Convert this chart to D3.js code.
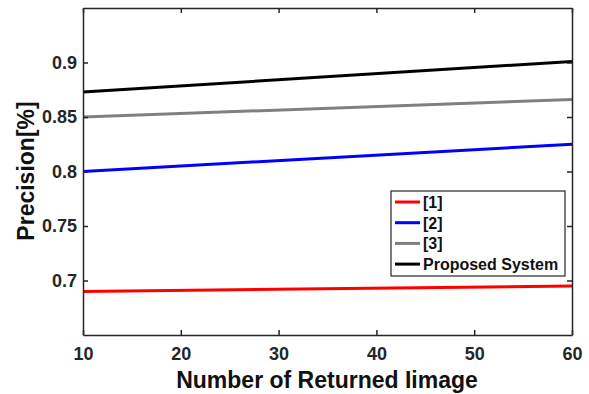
<!DOCTYPE html>
<html><head><meta charset="utf-8">
<script src="https://cdn.jsdelivr.net/npm/d3@7"></script>
<style>body{margin:0;background:#fff}svg{display:block}text{font-family:"Liberation Sans",Arial,sans-serif;font-weight:bold}</style>
</head><body><svg id="c" width="589" height="394"></svg>
<script>
const xValues = [10, 60];
const seriesNames = ["[1]", "[2]", "[3]", "Proposed System"];
const seriesColors = ["#ff0000", "#0000ff", "#808080", "#000000"];
const s1 = [0.690, 0.695];
const s2 = [0.800, 0.825];
const s3 = [0.850, 0.866];
const s4 = [0.873, 0.901];
const xTicks = [10, 20, 30, 40, 50, 60];
const yTicks = [0.7, 0.75, 0.8, 0.85, 0.9];
const allSeries = [s1, s2, s3, s4];

const svg = d3.select("#c");
const m = {l:83, t:8, r:589-572, b:394-335};
const W = 589 - m.l - m.r, H = 394 - m.t - m.b;
const x = d3.scaleLinear().domain([10, 60]).range([m.l, m.l + W]);
const y = d3.scaleLinear().domain([0.65, 0.95]).range([m.t + H, m.t]);
const axColor = "#262626";

// lines
const line = d3.line().x((d,i)=>x(xValues[i])).y(d=>y(d));
allSeries.forEach((s,i)=>{
  svg.append("path").attr("d", line(s)).attr("fill","none")
    .attr("stroke", seriesColors[i]).attr("stroke-width", 3);
});

// axes with inward ticks
const gB = svg.append("g").attr("transform",`translate(0,${m.t+H})`)
  .call(d3.axisBottom(x).tickValues(xTicks).tickSizeInner(-5).tickSizeOuter(0).tickPadding(12));
const gT = svg.append("g").attr("transform",`translate(0,${m.t})`)
  .call(d3.axisTop(x).tickValues(xTicks).tickSizeInner(-5).tickSizeOuter(0).tickFormat(""));
const gL = svg.append("g").attr("transform",`translate(${m.l},0)`)
  .call(d3.axisLeft(y).tickValues(yTicks).tickSizeInner(-5).tickSizeOuter(0).tickPadding(6).tickFormat(d=>String(d)));
const gR = svg.append("g").attr("transform",`translate(${m.l+W},0)`)
  .call(d3.axisRight(y).tickValues(yTicks).tickSizeInner(-5).tickSizeOuter(0).tickFormat(""));
[gB,gT,gL,gR].forEach(g=>{
  g.selectAll("path.domain").attr("stroke", axColor).attr("stroke-width", 1.5);
  g.selectAll(".tick line").attr("stroke", axColor).attr("stroke-width", 1.5);
  g.selectAll(".tick text").attr("fill", axColor).style("font-size","18px").style("font-family",'"Liberation Sans",Arial,sans-serif').style("font-weight","bold");
});

// axis titles
svg.append("text").attr("x", 327).attr("y", 388).attr("text-anchor","middle")
  .style("font-size","23px").attr("fill","#111").text("Number of Returned Iimage");
svg.append("text").attr("transform",`translate(34,171) rotate(-90)`).attr("text-anchor","middle")
  .style("font-size","23px").attr("fill","#111").text("Precision[%]");

// legend
const lg = svg.append("g");
lg.append("rect").attr("x",391).attr("y",191).attr("width",174).attr("height",85)
  .attr("fill","#fff").attr("stroke",axColor).attr("stroke-width",1.2);
seriesNames.forEach((n,i)=>{
  const yy = 202 + i*20.7;
  lg.append("line").attr("x1",395).attr("x2",420).attr("y1",yy).attr("y2",yy)
    .attr("stroke",seriesColors[i]).attr("stroke-width",3);
  lg.append("text").attr("x",423).attr("y",yy+6).style("font-size","16px").attr("fill","#111").text(n);
});
</script></body></html>
